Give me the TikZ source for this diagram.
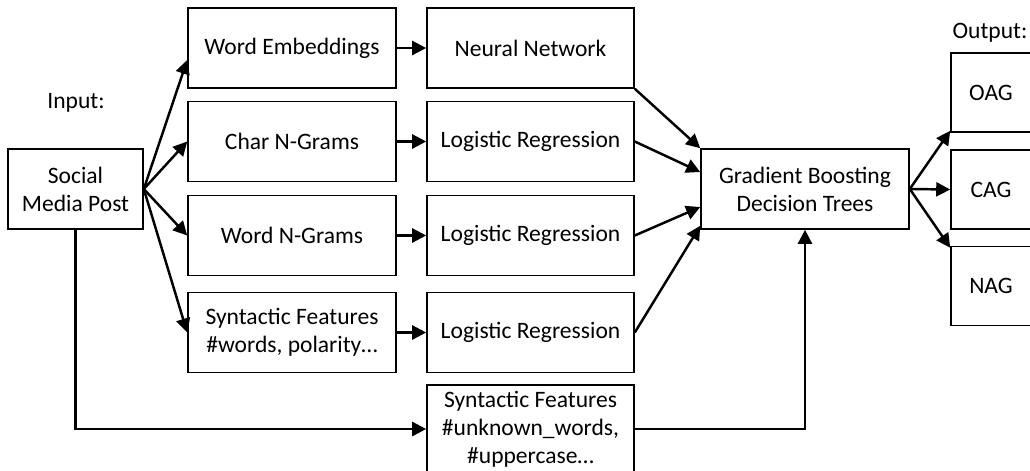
\documentclass[tikz,border=0pt]{standalone}
\usepackage{fontspec}
\setmainfont{Carlito}
\usepackage{tikz}
\usetikzlibrary{positioning,arrows.meta,calc}

\tikzset{
  box/.style={draw, line width=0.9pt, minimum width=4.16cm, minimum height=1.6cm, align=center},
  outbox/.style={draw, line width=0.9pt, minimum width=1.6cm, minimum height=1.58cm},
  arr/.style={line width=1.4pt, -{Triangle[length=2.8mm, width=2.8mm]}}
}

\begin{document}
\begin{tikzpicture}[every node/.style={font=\fontsize{13.4}{16}\selectfont}]
  \useasboundingbox (0,0) rectangle (20.6,-9.4);

  % input
  \node (inlabel) at (1.52,-2.06) {Input:};
  \node[box, minimum width=2.7cm] (post) at (1.51,-3.78) {Social\\Media Post};

  % features
  \node[box] (we) at (5.84,-0.96) {Word Embeddings};
  \node[box] (ch) at (5.84,-2.83) {Char N-Grams};
  \node[box] (wn) at (5.84,-4.71) {Word N-Grams};
  \node[box] (sf) at (5.84,-6.65) {Syntactic Features\\\#words, polarity\dots};

  % classifiers
  \node[box, minimum width=4.14cm] (nn) at (10.61,-0.96) {Neural Network};
  \node[box, minimum width=4.14cm] (lr1) at (10.61,-2.83) {Logistic Regression};
  \node[box, minimum width=4.14cm] (lr2) at (10.61,-4.71) {Logistic Regression};
  \node[box, minimum width=4.14cm] (lr3) at (10.61,-6.65) {Logistic Regression};
  \node[box, minimum width=4.14cm] (sfb) at (10.61,-8.58) {Syntactic Features\\\#unknown\_words,\\\#uppercase\dots};

  % meta classifier
  \node[box] (gbdt) at (16.1,-3.78) {Gradient Boosting\\Decision Trees};

  % output
  \node (outlabel) at (19.8,-0.66) {Output:};
  \node[outbox] (oag) at (19.82,-1.85) {OAG};
  \node[outbox] (cag) at (19.82,-3.79) {CAG};
  \node[outbox] (nag) at (19.82,-5.72) {NAG};

  \draw[arr] (post.east) -- ([yshift=-2.4mm]we.west);
  \draw[arr] (post.east) -- (ch.west);
  \draw[arr] (post.east) -- (wn.west);
  \draw[arr] (post.east) -- (sf.west);

  \draw[arr] (we) -- (nn);
  \draw[arr] (ch) -- (lr1);
  \draw[arr] (wn) -- (lr2);
  \draw[arr] (sf) -- (lr3);

  \draw[arr] (nn.south east) -- (gbdt.north west);
  \draw[arr] (lr1.east) -- ([yshift=3.4mm]gbdt.west);
  \draw[arr] (lr2.east) -- ([yshift=-3.6mm]gbdt.west);
  \draw[arr] (lr3.east) -- ([yshift=0.8mm]gbdt.south west);

  \draw[arr] (post.south) |- (sfb.west);
  \draw[arr] (sfb.east) -| (gbdt.south);

  \draw[arr] (gbdt.east) -- ([yshift=0.4mm]oag.south west);
  \draw[arr] (gbdt.east) -- (cag.west);
  \draw[arr] (gbdt.east) -- ([yshift=-0.4mm]nag.north west);
\end{tikzpicture}
\end{document}
